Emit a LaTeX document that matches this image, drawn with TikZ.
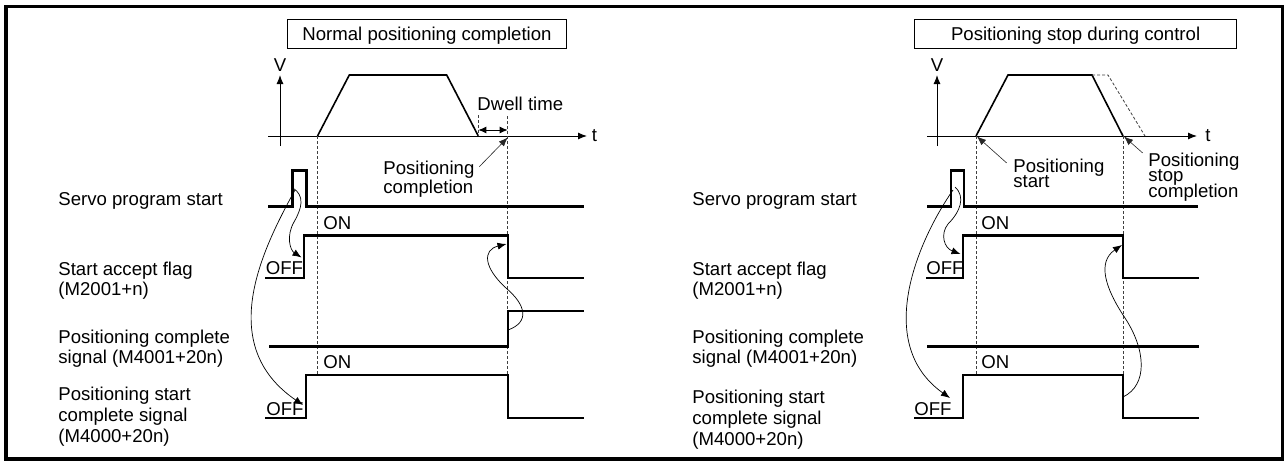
\documentclass[tikz,border=0pt]{standalone}
\usepackage{fontspec}
\setmainfont{Liberation Sans}
\usetikzlibrary{arrows.meta}

\tikzset{
  sig/.style={line width=1.1pt, line join=miter},
  axisline/.style={line width=0.5pt, -{Latex[length=4.5pt,width=3.5pt]}},
  profile/.style={line width=0.8pt, line join=miter},
  guide/.style={line width=0.4pt, black!75, dash pattern=on 1.5pt off 1pt},
  linkarrow/.style={line width=0.35pt, -{Latex[length=4.5pt,width=3.5pt]}},
  ptr/.style={line width=0.3pt, black!85, -{Latex[length=4.5pt,width=3.5pt]}},
  txt/.style={anchor=base west, inner sep=0pt},
  titlebox/.style={draw, line width=0.6pt, minimum height=14.5pt, inner sep=0pt, text depth=0pt},
}

\begin{document}
\begin{tikzpicture}[x=0.5pt,y=0.5pt,yscale=-1,xscale=1, font=\fontsize{9.3}{10}\selectfont]
\path[use as bounding box] (0,0) rectangle (1285,461);

%Shape: Rectangle
\draw[line width=1.8pt] (6,6.3) rectangle (1282.5,459);

%%%%%%%%%% left : normal positioning completion
% Text Node
\node[titlebox, minimum width=139.5pt] (titleA) at (427,33.8) {Normal positioning completion};

%Straight Lines (axes)
\coordinate (vA0) at (280,146);
\coordinate (vA1) at (280,75);
\coordinate (tA0) at (268,136);
\coordinate (tA1) at (587,136);
\draw[axisline] (vA0) -- (vA1);
\draw[axisline] (tA0) -- (tA1);
\node[anchor=base, inner sep=0pt] (vlabA) at (280,71) {V};
\node[txt] (tlabA) at (591.5,141.5) {t};

%Shape: speed pattern
\draw[profile] (317.5,136) -- (349.3,75) -- (446.7,75) -- (478.3,136);

%Straight Lines (dotted guides)
\draw[guide] (478.3,115) -- (478.3,136);
\draw[guide] (507.7,116) -- (507.7,375);
\draw[guide] (317.5,136) -- (317.5,375);

% dwell time
\coordinate (dwA0) at (478.3,130);
\coordinate (dwA1) at (507.7,130);
\draw[line width=0.5pt, {Latex[length=4pt,width=3.5pt]}-{Latex[length=4pt,width=3.5pt]}] (dwA0) -- (dwA1);
\node[txt] (dwell) at (477,110) {Dwell time};

% Text Node (base = last line)
\node[txt, align=left, font={\fontsize{9.3}{9.5}\selectfont\lineskiplimit=-20pt}] (pcA) at (383,193) {Positioning\\completion};
\coordinate (pcAfrom) at (479.3,166.7);
\coordinate (pcAto) at (507.7,137.5);
\draw[ptr] (pcAfrom) -- (pcAto);

%Straight Lines (signals)
\draw[sig] (268,206.5) -- (292.5,206.5) -- (292.5,170.5) -- (306.5,170.5) -- (306.5,206.5) -- (584,206.5);
\draw[sig] (265,278) -- (304,278) -- (304,235.5) -- (507.7,235.5) -- (507.7,278) -- (584,278);
\draw[sig] (269,346.5) -- (507.7,346.5) -- (507.7,310.7) -- (584,310.7);
\draw[sig] (265,418) -- (306,418) -- (306,375) -- (507.7,375) -- (507.7,418) -- (584,418);

% Text Node
\node[txt] (servoA) at (58,205.5) {Servo program start};
\node[txt, align=left] (acceptA) at (58,295) {Start accept flag\\(M2001+n)};
\node[txt, align=left] (pcsigA) at (58,363) {Positioning complete\\signal (M4001+20n)};
\node[txt, align=left, font={\fontsize{9.3}{10.3}\selectfont}] (pscA) at (58,442) {Positioning start\\complete signal\\(M4000+20n)};
\node[txt] (onA1) at (323,229) {ON};
\node[txt] (onA2) at (323,368.5) {ON};
\node[txt] (offA1) at (265.5,274) {OFF};
\node[txt] (offA2) at (266,415.5) {OFF};

%Curve Lines
\coordinate (puA1) at (293,188);
\coordinate (riseA1) at (301.5,257.5);
\draw[linkarrow] (puA1) .. controls (305,196) and (302,208) .. (294,222) .. controls (286,236) and (290,250) .. (riseA1);
\coordinate (puA2) at (295,190);
\coordinate (riseA2) at (303,405);
\draw[linkarrow] (puA2) .. controls (262,250) and (215,345) .. (riseA2);
\coordinate (pcrA) at (508,330);
\coordinate (fallA) at (506.5,244);
\draw[linkarrow] (pcrA) .. controls (530,322) and (526,305) .. (506,288) .. controls (484,268) and (482,250) .. (fallA);

%%%%%%%%%% right : positioning stop during control
% Text Node
\node[titlebox, minimum width=161.2pt] (titleB) at (1075.6,33.8) {Positioning stop during control};

%Straight Lines (axes)
\coordinate (vB0) at (937,146);
\coordinate (vB1) at (937,75);
\coordinate (tB0) at (927,136);
\coordinate (tB1) at (1197,136);
\draw[axisline] (vB0) -- (vB1);
\draw[axisline] (tB0) -- (tB1);
\node[anchor=base, inner sep=0pt] (vlabB) at (937,71) {V};
\node[txt] (tlabB) at (1205,141.5) {t};

%Shape: speed pattern
\draw[profile] (976,136) -- (1008,75) -- (1092,75) -- (1123,136);
\draw[guide] (1092,75) -- (1108,75) -- (1145,136);

%Straight Lines (dotted guides)
\draw[guide] (976,136) -- (976,375);
\draw[guide] (1123,136) -- (1123,375);

% Text Node (base = last line)
\node[txt, align=left, font={\fontsize{9.3}{7.5}\selectfont\lineskiplimit=-20pt}] (psB) at (1013,187) {Positioning\\start};
\node[txt, align=left, font={\fontsize{9.3}{7.75}\selectfont\lineskiplimit=-20pt}] (pstopB) at (1148,197) {Positioning\\stop\\completion};
\coordinate (psBfrom) at (1006.7,163);
\coordinate (psBto) at (977,136.5);
\draw[ptr] (psBfrom) -- (psBto);
\coordinate (pstopBfrom) at (1142.7,153);
\coordinate (pstopBto) at (1124,136.5);
\draw[ptr] (pstopBfrom) -- (pstopBto);

%Straight Lines (signals)
\draw[sig] (927,206.5) -- (951,206.5) -- (951,170.5) -- (964,170.5) -- (964,206.5) -- (1198,206.5);
\draw[sig] (926,278) -- (963,278) -- (963,235.5) -- (1123,235.5) -- (1123,278) -- (1199,278);
\draw[sig] (927,346.5) -- (1199,346.5);
\draw[sig] (914,418) -- (963,418) -- (963,375) -- (1123,375) -- (1123,418) -- (1199,418);

% Text Node
\node[txt] (servoB) at (692,205.5) {Servo program start};
\node[txt, align=left] (acceptB) at (692,295) {Start accept flag\\(M2001+n)};
\node[txt, align=left] (pcsigB) at (692,363) {Positioning complete\\signal (M4001+20n)};
\node[txt, align=left, font={\fontsize{9.3}{10.5}\selectfont}] (pscB) at (692,445) {Positioning start\\complete signal\\(M4000+20n)};
\node[txt] (onB1) at (981,229) {ON};
\node[txt] (onB2) at (981,368.5) {ON};
\node[txt] (offB1) at (926,274) {OFF};
\node[txt] (offB2) at (914,415.5) {OFF};

%Curve Lines
\coordinate (puB1) at (955,187);
\coordinate (riseB1) at (960.5,254);
\draw[linkarrow] (puB1) .. controls (966,197) and (960,212) .. (948,224) .. controls (940,234) and (944,248) .. (riseB1);
\coordinate (puB2) at (953,190);
\coordinate (riseB2) at (950,398);
\draw[linkarrow] (puB2) .. controls (915,245) and (875,345) .. (riseB2);
\coordinate (fallB2) at (1123,397);
\coordinate (fallB1) at (1122,245);
\draw[linkarrow] (fallB2) .. controls (1148,385) and (1146,350) .. (1125,318) .. controls (1105,288) and (1097,262) .. (fallB1);

\end{tikzpicture}
\end{document}
